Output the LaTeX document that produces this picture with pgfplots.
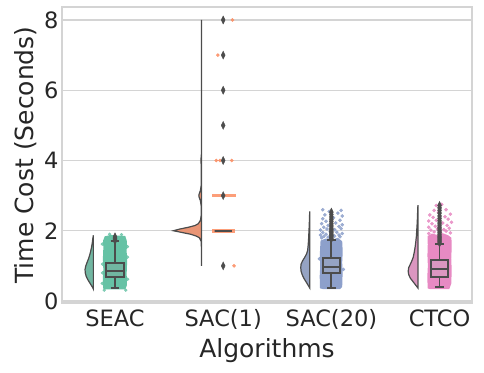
\documentclass[border=0pt]{standalone}
\usepackage{pgfplots}
\pgfplotsset{compat=1.18}
\usepackage{fontspec}
\setmainfont{DejaVu Sans}
\definecolor{cA}{HTML}{66C2A5}
\definecolor{cB}{HTML}{FC8D62}
\definecolor{cC}{HTML}{8DA0CB}
\definecolor{cD}{HTML}{E78AC3}
\definecolor{vA}{HTML}{71B6A1}
\definecolor{vB}{HTML}{E99575}
\definecolor{vC}{HTML}{95A3C3}
\definecolor{vD}{HTML}{DB96C0}
\definecolor{lc}{HTML}{4C4C4C}
\definecolor{gridc}{HTML}{D4D4D4}
\definecolor{txt}{HTML}{262626}
\begin{document}
\begin{tikzpicture}
\begin{axis}[name=ax, width=410pt, height=296pt, scale only axis,
  xmin=-0.49, xmax=3.3, ymin=-0.057, ymax=8.37,
  xtick={0,1,2,3}, xticklabels={SEAC,SAC(1),SAC(20),CTCO},
  ytick={0,2,4,6,8},
  ymajorgrids, grid style={draw=gridc, line width=1.2pt},
  axis line style={draw=gridc, line width=1.2pt},
  major tick length=0pt,
  tick label style={font=\fontsize{22.5}{27}\selectfont, text=txt},
  xticklabel style={text height=17pt, yshift=-2.5pt},
  label style={font=\fontsize{25}{30}\selectfont, text=txt},
  xlabel style={yshift=-3pt},
  xlabel=Algorithms, ylabel={Time Cost (Seconds)},
  /pgf/number format/assume math mode=true,
]
% violins
\addplot[fill=vA, draw=lc, line width=1.2pt] coordinates {(-0.2,0.34)(-0.21,0.4)(-0.23,0.5)(-0.25,0.6)(-0.266,0.7)(-0.275,0.8)(-0.277,0.9)(-0.27,1.0)(-0.258,1.1)(-0.245,1.2)(-0.235,1.3)(-0.226,1.4)(-0.219,1.5)(-0.213,1.6)(-0.208,1.7)(-0.204,1.8)(-0.2,1.87)} --cycle;
\addplot[fill=vB, draw=lc, line width=1.2pt] coordinates {(0.8,1.0)(0.799,1.5)(0.796,1.7)(0.78,1.8)(0.75,1.85)(0.7,1.9)(0.62,1.95)(0.54,2.0)(0.6,2.05)(0.68,2.1)(0.74,2.15)(0.77,2.2)(0.79,2.3)(0.797,2.45)(0.797,2.7)(0.79,2.85)(0.778,2.95)(0.775,3.0)(0.778,3.05)(0.79,3.15)(0.797,3.3)(0.798,3.8)(0.795,3.95)(0.794,4.0)(0.795,4.05)(0.799,4.2)(0.8,8.0)} --cycle;
\addplot[fill=vC, draw=lc, line width=1.2pt] coordinates {(1.8,0.37)(1.785,0.45)(1.765,0.55)(1.745,0.65)(1.73,0.75)(1.72,0.85)(1.717,0.95)(1.72,1.05)(1.735,1.15)(1.755,1.25)(1.772,1.35)(1.781,1.45)(1.786,1.6)(1.79,1.8)(1.793,2.0)(1.796,2.2)(1.798,2.4)(1.8,2.55)} --cycle;
\addplot[fill=vD, draw=lc, line width=1.2pt] coordinates {(2.8,0.37)(2.78,0.45)(2.755,0.55)(2.73,0.65)(2.715,0.75)(2.71,0.85)(2.715,0.95)(2.73,1.05)(2.745,1.15)(2.757,1.25)(2.767,1.4)(2.775,1.55)(2.781,1.7)(2.786,1.85)(2.789,2.0)(2.793,2.2)(2.796,2.4)(2.798,2.6)(2.8,2.73)} --cycle;
% clouds
\addplot[fill=cA, draw=none] coordinates {(-0.11,0.36)(-0.113,0.6)(-0.108,0.9)(-0.112,1.2)(-0.108,1.5)(-0.11,1.72)(-0.095,1.84)(-0.04,1.88)(0.03,1.86)(0.095,1.85)(0.11,1.7)(0.108,1.4)(0.112,1.1)(0.108,0.8)(0.11,0.45)(0.095,0.33)(-0.095,0.33)} --cycle;
\addplot[only marks, mark=*, mark size=1.5pt, color=cA, opacity=0.8] coordinates {(-0.118,0.5)(-0.115,1.05)(0.117,0.62)(0.115,1.55)(-0.05,1.9)(0.06,1.89)(-0.117,1.62)(0.1,0.31)(-0.1,0.31)(0.116,1.25)(-0.116,0.8)};
\addplot[fill=cC, draw=none] coordinates {(1.895,0.36)(1.892,0.7)(1.897,1.0)(1.893,1.3)(1.897,1.55)(1.9,1.72)(1.95,1.78)(2.0,1.74)(2.06,1.8)(2.1,1.7)(2.105,1.4)(2.1,1.1)(2.104,0.8)(2.1,0.4)(2.08,0.34)(1.92,0.34)} --cycle;
\addplot[only marks, mark=*, mark size=1.6pt, color=cC, opacity=0.85] coordinates {(1.91,1.8)(1.93,1.84)(1.97,1.82)(2.03,1.85)(2.08,1.83)(1.9,1.88)(1.95,1.9)(2.07,1.88)(2.1,1.92)(1.92,1.95)(1.99,1.97)(2.05,1.96)(1.9,2.02)(1.96,2.05)(2.03,2.03)(2.09,2.06)(1.93,2.1)(2.07,2.12)(1.97,2.15)(2.1,2.17)(1.91,2.2)(2.04,2.22)(1.95,2.27)(2.08,2.3)(1.92,2.34)(2.02,2.37)(2.1,2.42)(1.94,2.45)(2.06,2.5)(1.98,2.55)(2.09,2.58)(1.92,2.6)(1.89,1.2)(2.11,0.9)};
\addplot[fill=cD, draw=none] coordinates {(2.89,0.36)(2.887,0.7)(2.892,1.0)(2.888,1.3)(2.891,1.6)(2.89,1.85)(2.93,1.92)(2.98,1.88)(3.03,1.93)(3.08,1.87)(3.11,1.8)(3.112,1.5)(3.108,1.2)(3.112,0.9)(3.109,0.5)(3.09,0.34)(2.91,0.34)} --cycle;
\addplot[only marks, mark=*, mark size=1.6pt, color=cD, opacity=0.85] coordinates {(2.9,1.92)(2.95,1.97)(3.01,1.96)(3.06,1.99)(3.1,1.94)(2.92,2.02)(2.98,2.05)(3.04,2.03)(3.09,2.07)(2.9,2.1)(2.96,2.13)(3.07,2.15)(2.93,2.2)(3.03,2.22)(3.11,2.24)(2.9,2.28)(2.97,2.3)(3.08,2.33)(2.94,2.38)(3.05,2.4)(2.91,2.45)(3.1,2.47)(2.99,2.52)(2.95,2.58)(3.06,2.6)(3.0,2.66)(2.97,2.72)(3.02,2.75)};
% SAC(1) strip
\addplot[cB, line width=4pt, opacity=0.85] coordinates {(0.9,2)(1.11,2)};
\addplot[cB, line width=3.5pt, opacity=0.85] coordinates {(0.9,3)(1.12,3)};
\addplot[only marks, mark=*, mark size=1.6pt, color=cB, opacity=0.85] coordinates {(0.935,4)(0.97,4)(1.08,4)(0.95,7)(1.085,8)(1.1,1)};
% boxes
\addplot[fill=vA, draw=lc, line width=1.8pt] coordinates {(-0.08,0.68)(0.08,0.68)(0.08,1.08)(-0.08,1.08)} --cycle;
\addplot[lc, line width=1.8pt] coordinates {(-0.08,0.86)(0.08,0.86)};
\addplot[lc, line width=1.8pt] coordinates {(0,0.68)(0,0.37)};
\addplot[lc, line width=1.8pt] coordinates {(0,1.08)(0,1.7)};
\addplot[lc, line width=1.8pt] coordinates {(-0.04,0.37)(0.04,0.37)};
\addplot[lc, line width=1.8pt] coordinates {(-0.04,1.7)(0.04,1.7)};
\addplot[fill=vB, draw=lc, line width=1.8pt] coordinates {(0.92,2)(1.08,2)(1.08,2.0)(0.92,2.0)} --cycle;
\addplot[fill=vC, draw=lc, line width=1.8pt] coordinates {(1.92,0.8)(2.08,0.8)(2.08,1.22)(1.92,1.22)} --cycle;
\addplot[lc, line width=1.8pt] coordinates {(1.92,0.97)(2.08,0.97)};
\addplot[lc, line width=1.8pt] coordinates {(2,0.8)(2,0.37)};
\addplot[lc, line width=1.8pt] coordinates {(2,1.22)(2,1.74)};
\addplot[lc, line width=1.8pt] coordinates {(1.96,0.37)(2.04,0.37)};
\addplot[lc, line width=1.8pt] coordinates {(1.96,1.74)(2.04,1.74)};
\addplot[fill=vD, draw=lc, line width=1.8pt] coordinates {(2.92,0.68)(3.08,0.68)(3.08,1.17)(2.92,1.17)} --cycle;
\addplot[lc, line width=1.8pt] coordinates {(2.92,0.91)(3.08,0.91)};
\addplot[lc, line width=1.8pt] coordinates {(3,0.68)(3,0.39)};
\addplot[lc, line width=1.8pt] coordinates {(3,1.17)(3,1.62)};
\addplot[lc, line width=1.8pt] coordinates {(2.96,0.39)(3.04,0.39)};
\addplot[lc, line width=1.8pt] coordinates {(2.96,1.62)(3.04,1.62)};
% fliers
\addplot[only marks, mark=diamond*, mark size=4pt, mark options={fill=lc, draw=lc, xscale=0.65}] coordinates {(0,1.72)(0,1.75)(0,1.78)(0,1.8)(0,1.83)
(1,1)(1,3)(1,4)(1,5)(1,6)(1,7)(1,8)
(2,1.77)(2,1.8)(2,1.84)(2,1.87)(2,1.9)(2,1.94)(2,1.98)(2,2.02)(2,2.06)(2,2.11)(2,2.16)(2,2.21)(2,2.27)(2,2.33)(2,2.39)(2,2.46)(2,2.53)
(3,1.65)(3,1.69)(3,1.73)(3,1.77)(3,1.81)(3,1.85)(3,1.9)(3,1.95)(3,2.0)(3,2.05)(3,2.1)(3,2.16)(3,2.22)(3,2.28)(3,2.35)(3,2.42)(3,2.5)(3,2.58)(3,2.65)(3,2.72)};
\end{axis}
\path ([shift={(-62pt,-69pt)}]ax.south west) rectangle ([shift={(12pt,7pt)}]ax.north east);
\end{tikzpicture}
\end{document}
